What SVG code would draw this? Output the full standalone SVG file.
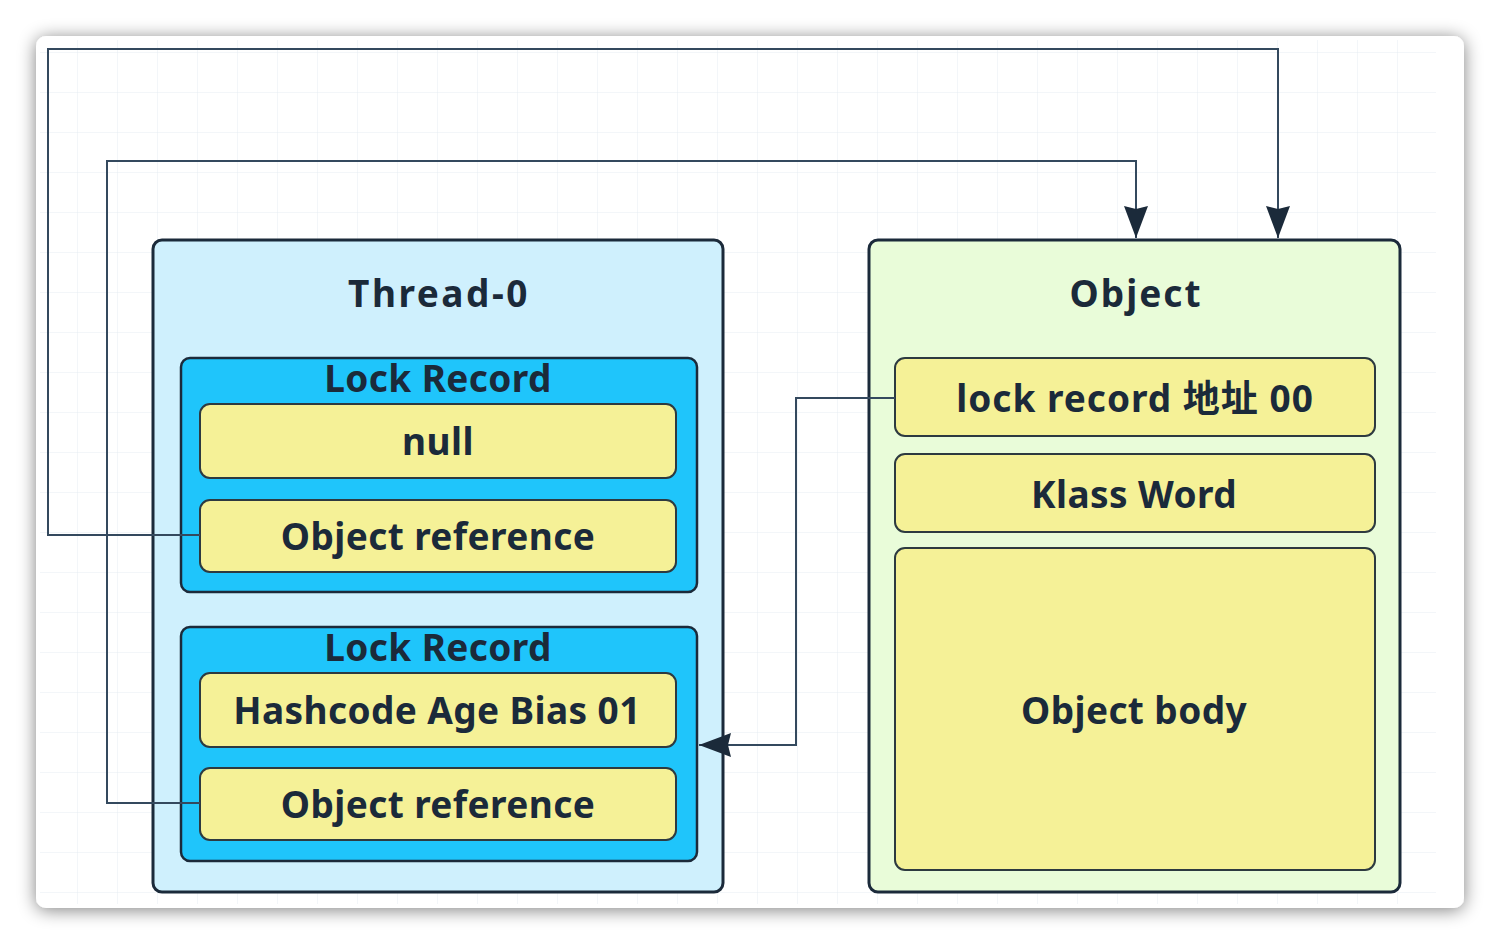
<svg xmlns="http://www.w3.org/2000/svg" width="1500" height="944" viewBox="0 0 1500 944">
<defs>
<filter id="sh" x="-5%" y="-5%" width="110%" height="110%">
<feGaussianBlur in="SourceAlpha" stdDeviation="9"/>
<feOffset dx="0" dy="2" result="b"/>
<feComponentTransfer><feFuncA type="linear" slope="0.5"/></feComponentTransfer>
<feMerge><feMergeNode/><feMergeNode in="SourceGraphic"/></feMerge>
</filter>
<pattern id="grid" width="40" height="40" patternUnits="userSpaceOnUse" x="-2" y="-27">
<path d="M40 0V40M0 40H40" fill="none" stroke="#e6edf2" stroke-width="1"/>
</pattern>
<marker id="ah" viewBox="0 0 32 24" refX="32" refY="12" markerWidth="32" markerHeight="24" markerUnits="userSpaceOnUse" orient="auto">
<path d="M0 0L32 12L0 24L3 12Z" fill="#1b2a3a"/>
</marker>
</defs>
<style>
.t{font-family:"Noto Sans","Noto Sans CJK SC",sans-serif;font-weight:bold;font-size:37px;fill:#1b2a3a;text-anchor:middle;letter-spacing:0.4px}
.h{letter-spacing:2.5px}
.cell{fill:#f5f197;stroke:#2d3a40;stroke-width:2}
.lr{fill:#1fc5fb;stroke:#1b2a3a;stroke-width:2.5}
.c{fill:none;stroke:#34495e;stroke-width:2}
</style>
<rect width="1500" height="944" fill="#ffffff"/>
<rect x="36" y="36" width="1428" height="872" rx="10" fill="#ffffff" filter="url(#sh)"/>
<rect x="40" y="40" width="1396" height="864" fill="url(#grid)"/>

<g id="thread0">
<rect x="153" y="240" width="570" height="652" rx="9" fill="#cff0fd" stroke="#1b2a3a" stroke-width="3"/>
<text class="t h" x="439" y="307">Thread-0</text>
</g>
<g id="lockrecord1">
<rect class="lr" x="181" y="358" width="516" height="234" rx="9"/>
<text class="t" x="438" y="392">Lock Record</text>
</g>
<g id="null">
<rect class="cell" x="200" y="404" width="476" height="74" rx="10"/>
<text class="t" x="438" y="455">null</text>
</g>
<g id="objref1">
<rect class="cell" x="200" y="500" width="476" height="72" rx="10"/>
<text class="t" x="438" y="550">Object reference</text>
</g>
<g id="lockrecord2">
<rect class="lr" x="181" y="627" width="516" height="234" rx="9"/>
<text class="t" x="438" y="661">Lock Record</text>
</g>
<g id="hashcode">
<rect class="cell" x="200" y="673" width="476" height="74" rx="10"/>
<text class="t" x="437" y="724">Hashcode Age Bias 01</text>
</g>
<g id="objref2">
<rect class="cell" x="200" y="768" width="476" height="72" rx="10"/>
<text class="t" x="438" y="818">Object reference</text>
</g>

<g id="object">
<rect x="869" y="240" width="531" height="652" rx="9" fill="#e9fcd9" stroke="#1b2a3a" stroke-width="3"/>
<text class="t" x="1136" y="307" style="letter-spacing:2px">Object</text>
</g>
<g id="lockaddr">
<rect class="cell" x="895" y="358" width="480" height="78" rx="10"/>
<text class="t" x="1135" y="412" style="letter-spacing:1px">lock  record 地址 00</text>
</g>
<g id="klass">
<rect class="cell" x="895" y="454" width="480" height="78" rx="10"/>
<text class="t" x="1134" y="508">Klass Word</text>
</g>
<g id="body">
<rect class="cell" x="895" y="548" width="480" height="322" rx="10"/>
<text class="t" x="1134" y="724">Object body</text>
</g>

<g id="connectors">
<path class="c" d="M200 535H48V49H1278V238" marker-end="url(#ah)"/>
<path class="c" d="M200 803H107V161H1136V238" marker-end="url(#ah)"/>
<path class="c" d="M895 398H796V745H699" marker-end="url(#ah)"/>
</g>
</svg>
